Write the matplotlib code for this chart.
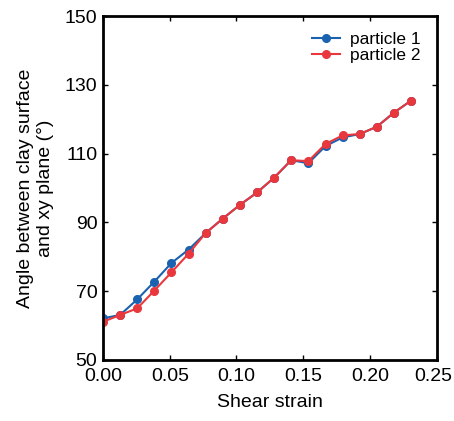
import numpy as np
import matplotlib
matplotlib.use("Agg")
import matplotlib.pyplot as plt
from matplotlib.transforms import ScaledTranslation

plt.rcParams['font.family'] = ['Liberation Sans', 'DejaVu Sans']

strain = [0.0, 0.0128, 0.0256, 0.0385, 0.0513, 0.0641, 0.0769, 0.0897, 0.1026,
          0.1154, 0.1282, 0.1410, 0.1538, 0.1667, 0.1795, 0.1923, 0.2051, 0.2179, 0.2308]
particle1 = [62.1, 63.1, 67.6, 72.8, 78.2, 82.1, 86.9, 91.1, 95.1, 98.7, 103.0, 108.1, 107.2,
             112.2, 114.7, 115.7, 117.8, 121.9, 125.4]
particle2 = [61.1, 63.1, 65.0, 70.2, 75.5, 80.9, 86.9, 91.1, 95.1, 98.7, 103.0, 108.1, 107.8,
             112.8, 115.3, 115.7, 117.8, 121.9, 125.4]

fig = plt.figure(figsize=(4.54, 4.21), dpi=100)
ax = fig.add_axes([0.2269, 0.1449, 0.735, 0.817])

ax.plot(strain, particle1, '-o', color='#1a62b0', ms=5.5, lw=1.5, label='particle 1')
ax.plot(strain, particle2, '-o', color='#e8383d', ms=5.5, lw=1.5, label='particle 2')

ax.set_xlim(0, 0.25)
ax.set_ylim(50, 150)
ax.set_xticks([0, 0.05, 0.10, 0.15, 0.20, 0.25])
ax.set_xticklabels(['0.00', '0.05', '0.10', '0.15', '0.20', '0.25'])
ax.set_yticks([50, 70, 90, 110, 130, 150])
ax.tick_params(direction='in', length=3.6, width=1.0, labelsize=14, top=True, right=True)
ax.tick_params(axis='x', pad=6)
ax.tick_params(axis='y', pad=4)
for s in ax.spines.values():
    s.set_linewidth(2)

# last x label sits a bit left so it fits inside the figure
last = ax.get_xticklabels()[-1]
last.set_transform(last.get_transform() + ScaledTranslation(-3 / 100, 0, fig.dpi_scale_trans))

ax.set_xlabel('Shear strain', fontsize=14, labelpad=6)
ax.set_ylabel('Angle between clay surface\nand xy plane (°)', fontsize=14, labelpad=8,
              linespacing=1.2)
ax.legend(loc='upper left', bbox_to_anchor=(0.626, 0.955), frameon=False, fontsize=12.5,
          handlelength=1.6, handletextpad=0.6, labelspacing=0.05, borderpad=0, borderaxespad=0)

fig.savefig('out.png', dpi=100)
